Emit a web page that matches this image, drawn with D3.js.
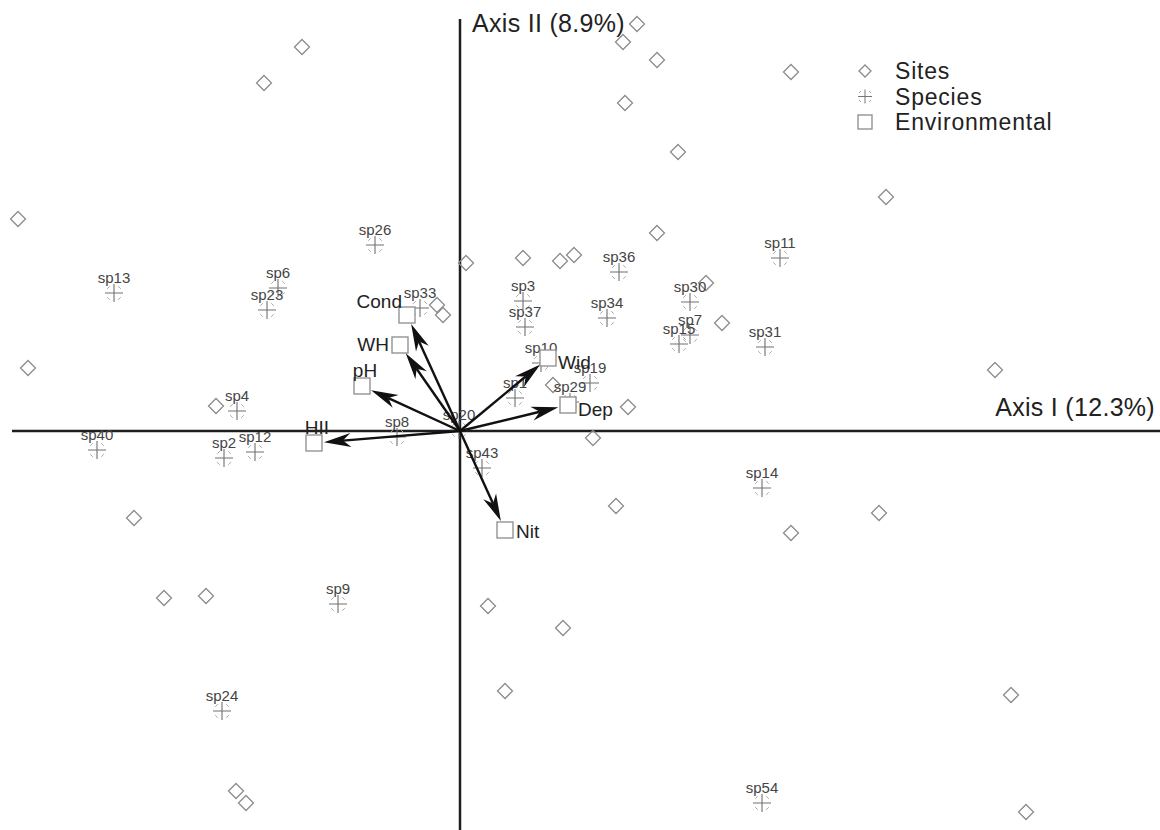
<!DOCTYPE html>
<html>
<head>
<meta charset="utf-8">
<script src="https://cdn.jsdelivr.net/npm/d3@7"></script>
<style>
  body { margin: 0; background: #fff; }
  svg { display: block; font-family: "Liberation Sans", Arial, sans-serif; }
</style>
</head>
<body>
<svg id="chart"></svg>
<script>
  //Site scores (axis I, axis II)
  const siteX = [1.77, 1.63, -1.58, 1.97, -1.96, 3.31, 1.65, 2.18, 4.26, -4.42,
    1.97, 0.06, 0.63, 1.00, 1.14, 2.46, -0.23, -0.17, 2.62, -4.32,
    5.35, -2.44, 0.93, 1.68, 1.33, -3.26, 1.56, 4.19, 3.31, -2.96,
    -2.54, 0.28, 1.03, 0.45, 5.51, -2.24, -2.14, 5.66];
  const siteY = [4.07, 3.89, 3.84, 3.71, 3.48, 3.59, 3.28, 2.79, 2.34, 2.12,
    1.98, 1.68, 1.73, 1.70, 1.76, 1.48, 1.26, 1.16, 1.08, 0.63,
    0.61, 0.25, 0.46, 0.24, -0.07, -0.87, -0.75, -0.82, -1.02, -1.67,
    -1.65, -1.75, -1.97, -2.60, -2.64, -3.60, -3.72, -3.81];

  //Species scores
  const speciesNames = ['sp26', 'sp13', 'sp6', 'sp23', 'sp33', 'sp3', 'sp37', 'sp36', 'sp34', 'sp30',
    'sp7', 'sp15', 'sp11', 'sp31', 'sp10', 'sp1', 'sp19', 'sp29', 'sp4', 'sp40',
    'sp2', 'sp12', 'sp8', 'sp20', 'sp43', 'sp14', 'sp9', 'sp24', 'sp54'];
  const speciesX = [-0.85, -3.46, -1.82, -1.93, -0.40, 0.63, 0.65, 1.59, 1.47, 2.30,
    2.30, 2.19, 3.20, 3.05, 0.81, 0.55, 1.30, 1.10, -2.23, -3.63,
    -2.36, -2.05, -0.63, -0.01, 0.22, 3.02, -1.22, -2.38, 3.02];
  const speciesY = [1.86, 1.38, 1.43, 1.21, 1.23, 1.30, 1.04, 1.59, 1.13, 1.29,
    0.96, 0.87, 1.73, 0.84, 0.68, 0.33, 0.48, 0.29, 0.20, -0.19,
    -0.27, -0.21, -0.06, 0.01, -0.37, -0.57, -1.73, -2.80, -3.72];

  //Environmental variables (biplot arrows)
  const envNames = ['Cond', 'WH', 'pH', 'HII', 'Wid', 'Dep', 'Nit'];
  const envX = [-0.53, -0.60, -0.98, -1.46, 0.88, 1.08, 0.45];
  const envY = [1.16, 0.86, 0.45, -0.12, 0.73, 0.26, -0.99];
  //which side of the square the label sits on
  const envSide = ['nw', 'w', 'n', 'n', 'se', 'se', 'e'];

  const axisLabels = ['Axis I (12.3%)', 'Axis II (8.9%)'];
  const legendLabels = ['Sites', 'Species', 'Environmental'];

  const width = 1160;
  const height = 830;

  const svg = d3.select('#chart')
    .attr('width', width)
    .attr('height', height);

  const x = d3.scaleLinear().domain([-4.5, 7]).range([10, 1160]);
  const y = d3.scaleLinear().domain([-4, 4.12]).range([831, 19]);

  const sites = siteX.map((v, i) => ({ x: v, y: siteY[i] }));
  const species = speciesNames.map((n, i) => ({ name: n, x: speciesX[i], y: speciesY[i] }));
  const env = envNames.map((n, i) => ({ name: n, x: envX[i], y: envY[i], side: envSide[i] }));

  const diamondPath = 'M0,-7.5L7.5,0L0,7.5L-7.5,0Z';
  const plusPath = 'M-9,0H9M0,-9V9';
  const tickPath = 'M-6.8,-4.2L-4.2,-6.8M4.2,-6.8L6.8,-4.2M-6.8,4.2L-4.2,6.8M4.2,6.8L6.8,4.2';
  const arrowHead = 'M0,0L-27,-7L-19,0L-27,7Z';

  //Axes through the origin
  const axisG = svg.append('g').attr('class', 'axes');
  axisG.append('line')
    .attr('x1', x.range()[0] + 2).attr('x2', x.range()[1])
    .attr('y1', y(0)).attr('y2', y(0))
    .attr('stroke', '#1e1e1e').attr('stroke-width', 2.5);
  axisG.append('line')
    .attr('x1', x(0)).attr('x2', x(0))
    .attr('y1', y.range()[1]).attr('y2', y.range()[0])
    .attr('stroke', '#1e1e1e').attr('stroke-width', 2.5);

  axisG.append('text')
    .attr('x', 1155).attr('y', y(0) - 15)
    .attr('text-anchor', 'end')
    .attr('font-size', 25).attr('letter-spacing', 0.3).attr('fill', '#222')
    .text(axisLabels[0]);
  axisG.append('text')
    .attr('x', x(0) + 12).attr('y', 32)
    .attr('font-size', 25).attr('letter-spacing', 0.3).attr('fill', '#222')
    .text(axisLabels[1]);

  //Sites
  svg.append('g').attr('class', 'sites')
    .selectAll('path')
    .data(sites)
    .enter().append('path')
    .attr('transform', d => `translate(${x(d.x)},${y(d.y)})`)
    .attr('d', diamondPath)
    .attr('fill', 'none')
    .attr('stroke', '#8c8c8c')
    .attr('stroke-width', 1.3);

  //Species
  const spG = svg.append('g').attr('class', 'species')
    .selectAll('g')
    .data(species)
    .enter().append('g')
    .attr('transform', d => `translate(${x(d.x)},${y(d.y)})`);
  spG.append('path').attr('d', plusPath).attr('stroke', '#707070').attr('stroke-width', 1.1);
  spG.append('path').attr('d', tickPath).attr('stroke', '#aaa').attr('stroke-width', 1);
  spG.append('text')
    .attr('y', -10)
    .attr('text-anchor', 'middle')
    .attr('font-size', 15)
    .attr('fill', '#444')
    .text(d => d.name);

  //Arrows from origin to each environmental variable
  const ox = x(0), oy = y(0);
  svg.append('g').attr('class', 'arrows')
    .selectAll('g')
    .data(env)
    .enter().append('g')
    .each(function (d) {
      const ex = x(d.x), ey = y(d.y);
      const ang = Math.atan2(ey - oy, ex - ox);
      const len = Math.hypot(ex - ox, ey - oy) - 10;
      const tx = ox + len * Math.cos(ang), ty = oy + len * Math.sin(ang);
      const g = d3.select(this);
      g.append('line')
        .attr('x1', ox).attr('y1', oy)
        .attr('x2', ox + (len - 19) * Math.cos(ang)).attr('y2', oy + (len - 19) * Math.sin(ang))
        .attr('stroke', '#111').attr('stroke-width', 2.4);
      g.append('path')
        .attr('d', arrowHead)
        .attr('transform', `translate(${tx},${ty}) rotate(${ang * 180 / Math.PI})`)
        .attr('fill', '#111');
    });

  //Environmental squares and labels
  const envG = svg.append('g').attr('class', 'env')
    .selectAll('g')
    .data(env)
    .enter().append('g')
    .attr('transform', d => `translate(${x(d.x)},${y(d.y)})`);
  envG.append('rect')
    .attr('x', -8).attr('y', -8).attr('width', 16).attr('height', 16)
    .attr('fill', '#fff').attr('stroke', '#8c8c8c').attr('stroke-width', 1.3);

  const labelPos = {
    nw: { dx: -5, dy: -7, anchor: 'end' },
    w: { dx: -11, dy: 6, anchor: 'end' },
    n: { dx: 3, dy: -9, anchor: 'middle' },
    se: { dx: 10, dy: 11, anchor: 'start' },
    e: { dx: 11, dy: 8, anchor: 'start' }
  };
  envG.append('text')
    .attr('x', d => labelPos[d.side].dx)
    .attr('y', d => labelPos[d.side].dy)
    .attr('text-anchor', d => labelPos[d.side].anchor)
    .attr('font-size', 19)
    .attr('fill', '#222')
    .text(d => d.name);

  //Legend
  const legend = svg.append('g').attr('class', 'legend')
    .attr('transform', 'translate(865,71)');
  const legendRows = legend.selectAll('g')
    .data(legendLabels)
    .enter().append('g')
    .attr('transform', (d, i) => `translate(0,${i * 25.5})`);
  legendRows.filter((d, i) => i === 0).append('path')
    .attr('d', 'M0,-6L6,0L0,6L-6,0Z')
    .attr('fill', 'none').attr('stroke', '#8c8c8c').attr('stroke-width', 1.3);
  legendRows.filter((d, i) => i === 1).append('path')
    .attr('d', 'M-7,0H7M0,-7V7').attr('stroke', '#777').attr('stroke-width', 1);
  legendRows.filter((d, i) => i === 1).append('path')
    .attr('d', 'M-6,-3.5L-4,-5.5M4,-5.5L6,-3.5M-6,3.5L-4,5.5M4,5.5L6,3.5').attr('stroke', '#aaa');
  legendRows.filter((d, i) => i === 2).append('rect')
    .attr('x', -7).attr('y', -7).attr('width', 14).attr('height', 14)
    .attr('fill', 'none').attr('stroke', '#8c8c8c').attr('stroke-width', 1.3);
  legendRows.append('text')
    .attr('x', 30).attr('y', 8)
    .attr('font-size', 23)
    .attr('letter-spacing', 0.8)
    .attr('fill', '#222')
    .text(d => d);
</script>
</body>
</html>
